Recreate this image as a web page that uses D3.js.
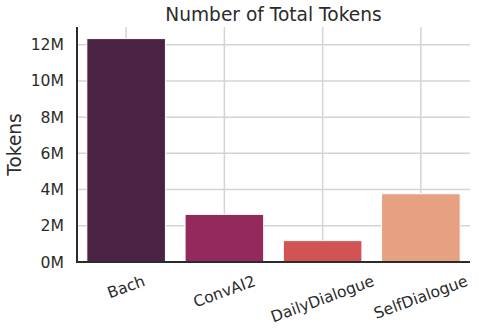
<!DOCTYPE html>
<html>
<head>
<meta charset="utf-8">
<script src="https://cdn.jsdelivr.net/npm/d3@7"></script>
<style>
  html, body { margin: 0; padding: 0; background: #fff; }
  svg { display: block; font-family: "DejaVu Sans", sans-serif; }
</style>
</head>
<body>
<svg id="chart" width="479" height="335"></svg>
<script>
// Token counts per dialogue corpus
const categories = ["Bach", "ConvAI2", "DailyDialogue", "SelfDialogue"];
const tokens = [12340000, 2630000, 1180000, 3770000];
const barColors = ["#4a2344", "#932a5b", "#d25353", "#e6a280"];
const yTicks = [0, 2000000, 4000000, 6000000, 8000000, 10000000, 12000000];
const yTickLabels = ["0M", "2M", "4M", "6M", "8M", "10M", "12M"];
const title = "Number of Total Tokens";
const yLabel = "Tokens";

const svg = d3.select("#chart");
const margin = { left: 77, right: 9, top: 27, bottom: 73 };
const W = 479, H = 335;
const x0 = margin.left, x1 = W - margin.right;
const y0 = H - margin.bottom, y1 = margin.top;

const x = d3.scaleBand().domain(categories).range([x0, x1]).paddingInner(0.2).paddingOuter(0.1);
const y = d3.scaleLinear().domain([0, 12980000]).range([y0, y1]);

const gridColor = "#d4d4d4";
const textColor = "#2b2b2b";

// Horizontal grid
svg.append("g").selectAll("line").data(yTicks.slice(1)).join("line")
  .attr("x1", x0).attr("x2", x1)
  .attr("y1", d => y(d)).attr("y2", d => y(d))
  .attr("stroke", gridColor).attr("stroke-width", 1.5);

// Vertical grid at category centres
svg.append("g").selectAll("line").data(categories).join("line")
  .attr("x1", d => x(d) + x.bandwidth() / 2).attr("x2", d => x(d) + x.bandwidth() / 2)
  .attr("y1", y1).attr("y2", y0)
  .attr("stroke", gridColor).attr("stroke-width", 1.5);

// Bars
svg.append("g").selectAll("rect").data(categories).join("rect")
  .attr("x", d => x(d))
  .attr("width", x.bandwidth())
  .attr("y", (d, i) => y(tokens[i]))
  .attr("height", (d, i) => y(0) - y(tokens[i]))
  .attr("fill", (d, i) => barColors[i])
  .attr("stroke", "#ffffff").attr("stroke-width", 1);

// Y axis
const yAxis = d3.axisLeft(y).tickValues(yTicks)
  .tickFormat((d, i) => yTickLabels[i]).tickSize(0).tickPadding(13);
const gy = svg.append("g").attr("transform", `translate(${x0},0)`).call(yAxis);
gy.select(".domain").remove();
gy.selectAll("text").attr("font-size", "15.6px").attr("fill", textColor)
  .attr("font-family", "DejaVu Sans, sans-serif");

// X axis labels, rotated
const xAxis = d3.axisBottom(x).tickSize(0).tickFormat(d => d);
const gx = svg.append("g").attr("transform", `translate(0,${y0})`).call(xAxis);
gx.select(".domain").remove();
const angle = 20 * Math.PI / 180;
gx.selectAll(".tick text")
  .attr("font-size", "15.6px").attr("fill", textColor)
  .attr("font-family", "DejaVu Sans, sans-serif")
  .attr("text-anchor", "middle")
  .attr("dy", null)
  .attr("dominant-baseline", "central")
  .each(function () {
    const w = this.getComputedTextLength();
    const h = 15.6 * 1.17;
    const halfH = (w * Math.sin(angle) + h * Math.cos(angle)) / 2;
    d3.select(this).attr("y", 0)
      .attr("transform", `translate(0,${10 + halfH}) rotate(-20)`);
  });

// Spines
svg.append("line").attr("x1", x0).attr("x2", x0).attr("y1", y1).attr("y2", y0 + 1)
  .attr("stroke", textColor).attr("stroke-width", 2);
svg.append("line").attr("x1", x0 - 1).attr("x2", x1).attr("y1", y0).attr("y2", y0)
  .attr("stroke", textColor).attr("stroke-width", 2);

// Title
svg.append("text").attr("x", (x0 + x1) / 2).attr("y", 21)
  .attr("text-anchor", "middle").attr("font-size", "18.6px").attr("fill", textColor)
  .text(title);

// Y label
svg.append("text")
  .attr("transform", `translate(21,${(y0 + y1) / 2}) rotate(-90)`)
  .attr("text-anchor", "middle").attr("font-size", "18.6px").attr("fill", textColor)
  .text(yLabel);
</script>
</body>
</html>
